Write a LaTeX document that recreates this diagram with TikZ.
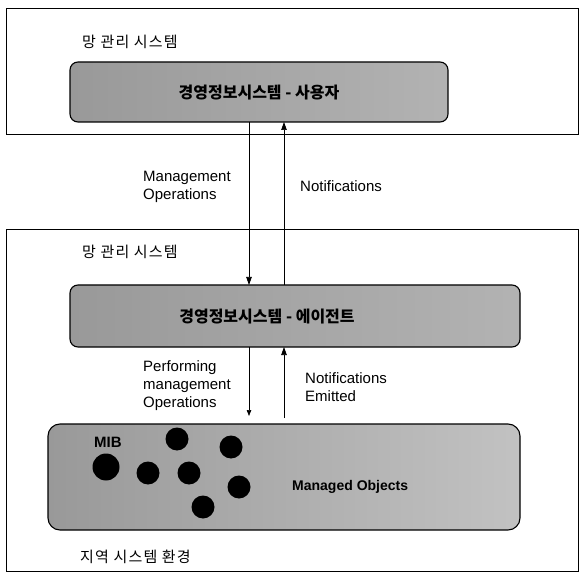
\documentclass[tikz,border=0pt]{standalone}
\usepackage{fontspec}
\setmainfont{Liberation Sans}
\newfontfamily\kr[LetterSpace=8]{Noto Sans CJK KR}
\newfontfamily\krb{Noto Sans CJK KR}
\usetikzlibrary{arrows.meta}
\begin{document}
\begin{tikzpicture}[x=1pt,y=-1pt,
  outer/.style={draw,line width=0.8pt},
  gbox/.style={draw,line width=1.1pt,rounded corners=8pt,left color=black!40,right color=black!30},
  mib/.style={draw,line width=1.1pt,rounded corners=12pt,left color=black!40,right color=black!24},
  title/.style={anchor=west,font=\kr\fontsize{15}{18}\selectfont,inner sep=0pt},
  boxtext/.style={font=\krb\bfseries\fontsize{16}{18}\selectfont,inner sep=0pt},
  lbl/.style={anchor=west,align=left,font=\fontsize{15}{18}\selectfont,inner sep=0pt},
  dot/.style={circle,fill=black,inner sep=0pt,minimum size=#1},
  arr/.style={line width=0.7pt,-{Triangle[length=8pt,width=5.5pt]}},
  sarr/.style={line width=0.7pt,-{Triangle[length=6pt,width=4.5pt]}}]
\useasboundingbox (0,0) rectangle (581,577);
% outer boxes
\node[outer,minimum width=572pt,minimum height=126pt,inner sep=0pt] (top) at (292,71) {};
\node[outer,minimum width=572pt,minimum height=342pt,inner sep=0pt] (bot) at (292,400) {};
\node[title] (t1) at (82,42) {망 관리 시스템};
\node[title] (t2) at (82,252) {망 관리 시스템};
\node[title] (t3) at (80,557) {지역 시스템 환경};
% gray boxes
\node[gbox,minimum width=378pt,minimum height=60pt,inner sep=0pt] (user) at (259,92) {};
\node[boxtext] (usert) at (259,93) {경영정보시스템 - 사용자};
\node[gbox,minimum width=450pt,minimum height=62pt,inner sep=0pt] (agent) at (295,316) {};
\node[boxtext] (agentt) at (267,317) {경영정보시스템 - 에이전트};
\node[mib,minimum width=472pt,minimum height=106pt,inner sep=0pt] (mibbox) at (284,477) {};
\node[anchor=west,inner sep=0pt,font=\bfseries\fontsize{15}{16}\selectfont] (mibt) at (94,442) {MIB};
\node[anchor=west,inner sep=0pt,font=\bfseries\fontsize{14}{16}\selectfont] (mo) at (292,487) {Managed Objects};
% dots
\node[dot=27pt] (d1) at (106,467) {};
\node[dot=23pt] (d2) at (177,439) {};
\node[dot=23pt] (d3) at (231,447) {};
\node[dot=23pt] (d4) at (148,473) {};
\node[dot=23pt] (d5) at (189,473) {};
\node[dot=23pt] (d6) at (239,487) {};
\node[dot=23pt] (d7) at (203,507) {};
% connectors
\coordinate (a1s) at (249,122);
\coordinate (a1e) at (249,285);
\coordinate (a2s) at (284,285);
\coordinate (a2e) at (284,122);
\draw[arr] (a1s) -- (a1e);
\draw[arr] (a2s) -- (a2e);
\coordinate (b1s) at (249,347);
\coordinate (b1e) at (249,416);
\coordinate (b2s) at (284,418);
\coordinate (b2e) at (284,347);
\draw[sarr] (b1s) -- (b1e);
\draw[arr] (b2s) -- (b2e);
% labels
\node[lbl] (l1) at (143,187) {Management\\Operations};
\node[lbl] (l2) at (300,186) {Notifications};
\node[lbl] (l3) at (143,386) {Performing\\management\\Operations};
\node[lbl] (l4) at (305,387) {Notifications\\Emitted};
\end{tikzpicture}
\end{document}
